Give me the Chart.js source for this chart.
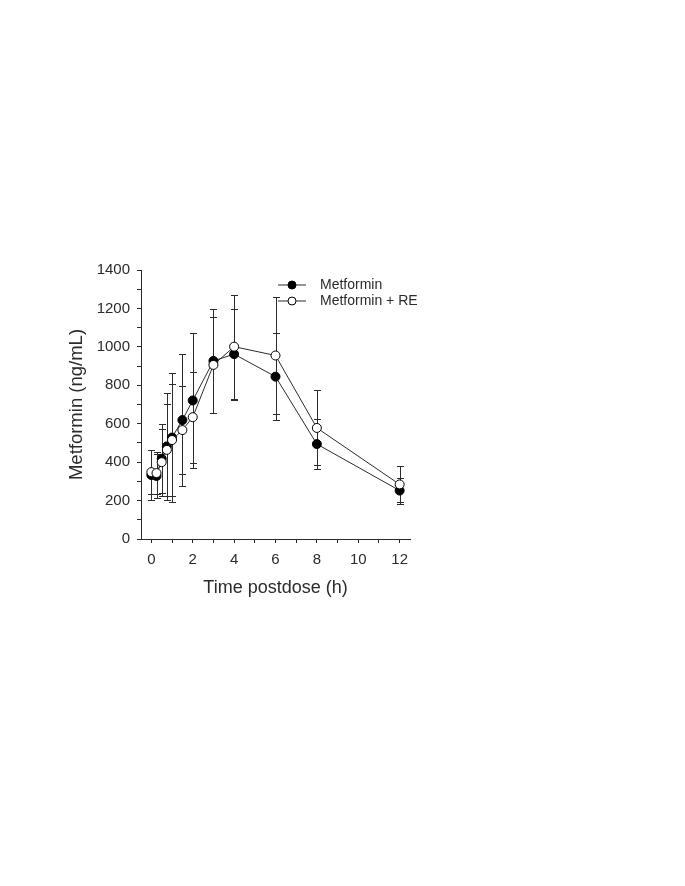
<!DOCTYPE html>
<html lang="en">
<head>
    <meta charset="UTF-8">
    <title>Metformin plasma concentration</title>
    <script src="https://cdn.jsdelivr.net/npm/chart.js@4.4.0/dist/chart.umd.min.js"></script>
    <style>
        html, body { margin: 0; padding: 0; background: #fff; }
        canvas { display: block; }
    </style>
</head>
<body>
    <canvas id="pkChart" width="685" height="886"></canvas>
    <script>
        // sampling times (h) and mean +/- SD
        const times = [0, 0.25, 0.5, 0.75, 1, 1.5, 2, 3, 4, 6, 8, 12];
        const metforminMean = [333, 328, 418, 482, 528, 619, 721, 927, 962, 845, 494, 252];
        const metforminSD = [128, 116, 181, 278, 336, 345, 350, 272, 237, 228, 130, 68];
        const metforminReMean = [348, 343, 400, 464, 515, 567, 634, 906, 1001, 955, 578, 284];
        const metforminReSD = [116, 110, 174, 240, 292, 228, 237, 250, 270, 305, 195, 94];

        const xTicks = [0, 1, 2, 3, 4, 5, 6, 7, 8, 9, 10, 11, 12];
        const xTickLabels = [0, 2, 4, 6, 8, 10, 12];
        const yTicks = [0, 100, 200, 300, 400, 500, 600, 700, 800, 900, 1000, 1100, 1200, 1300, 1400];
        const yTickLabels = [0, 200, 400, 600, 800, 1000, 1200, 1400];

        const ink = '#2b2b2b';
        Chart.defaults.font.family = '"Liberation Sans", Arial, sans-serif';
        Chart.defaults.color = ink;

        function toPoints(mean) {
            return times.map((t, i) => ({ x: t, y: mean[i] }));
        }

        // vertical SD bars with caps, drawn under the markers
        const errorBars = {
            id: 'errorBars',
            beforeDatasetsDraw(chart) {
                const ctx = chart.ctx;
                const xs = chart.scales.x;
                const ys = chart.scales.y;
                ctx.save();
                ctx.strokeStyle = ink;
                ctx.lineWidth = 1;
                chart.data.datasets.forEach(ds => {
                    ds.sd.forEach((sd, i) => {
                        const px = Math.round(xs.getPixelForValue(ds.data[i].x)) + 0.5;
                        const hi = Math.round(ys.getPixelForValue(ds.data[i].y + sd)) + 0.5;
                        const lo = Math.round(ys.getPixelForValue(ds.data[i].y - sd)) + 0.5;
                        ctx.beginPath();
                        ctx.moveTo(px, hi);
                        ctx.lineTo(px, lo);
                        ctx.moveTo(px - 3.5, hi);
                        ctx.lineTo(px + 3.5, hi);
                        ctx.moveTo(px - 3.5, lo);
                        ctx.lineTo(px + 3.5, lo);
                        ctx.stroke();
                    });
                });
                ctx.restore();
            }
        };

        // small line+marker legend in the top right of the plot
        const sampleLegend = {
            id: 'sampleLegend',
            afterDraw(chart) {
                const ctx = chart.ctx;
                const area = chart.chartArea;
                ctx.save();
                chart.data.datasets.forEach((ds, i) => {
                    const y = area.top + 15 + i * 16;
                    const x0 = area.left + 137;
                    ctx.strokeStyle = ds.borderColor;
                    ctx.lineWidth = 1;
                    ctx.beginPath();
                    ctx.moveTo(x0, y);
                    ctx.lineTo(x0 + 28, y);
                    ctx.stroke();
                    ctx.beginPath();
                    ctx.arc(x0 + 14, y, 4, 0, Math.PI * 2);
                    ctx.fillStyle = ds.pointBackgroundColor;
                    ctx.fill();
                    ctx.strokeStyle = ds.pointBorderColor;
                    ctx.stroke();
                    ctx.fillStyle = ink;
                    ctx.font = '14px "Liberation Sans", Arial, sans-serif';
                    ctx.textBaseline = 'middle';
                    ctx.fillText(ds.label, x0 + 42, y);
                });
                ctx.restore();
            }
        };

        new Chart(document.getElementById('pkChart'), {
            type: 'line',
            data: {
                datasets: [{
                    label: 'Metformin',
                    data: toPoints(metforminMean),
                    sd: metforminSD,
                    borderColor: ink,
                    borderWidth: 1,
                    pointRadius: 4.5,
                    pointBackgroundColor: '#000',
                    pointBorderColor: '#000',
                    pointBorderWidth: 1,
                    order: 2
                }, {
                    label: 'Metformin + RE',
                    data: toPoints(metforminReMean),
                    sd: metforminReSD,
                    borderColor: ink,
                    borderWidth: 1,
                    pointRadius: 4.5,
                    pointBackgroundColor: '#fff',
                    pointBorderColor: '#000',
                    pointBorderWidth: 1,
                    order: 1
                }]
            },
            options: {
                responsive: false,
                animation: false,
                devicePixelRatio: 1,
                layout: {
                    padding: { left: 0, top: 270, right: 275, bottom: 287 }
                },
                plugins: {
                    legend: { display: false },
                    tooltip: { enabled: false }
                },
                scales: {
                    x: {
                        type: 'linear',
                        min: -0.5,
                        max: 12.5,
                        afterBuildTicks: scale => {
                            scale.ticks = xTicks.map(v => ({ value: v }));
                        },
                        afterFit: scale => { scale.height = 60; },
                        ticks: {
                            autoSkip: false,
                            maxRotation: 0,
                            padding: 8,
                            font: { size: 15 },
                            callback: v => xTickLabels.includes(v) ? String(v) : ''
                        },
                        grid: {
                            drawOnChartArea: false,
                            drawTicks: true,
                            tickLength: 4,
                            tickColor: ink
                        },
                        border: { display: true, color: ink, width: 1 },
                        title: {
                            display: true,
                            text: 'Time postdose (h)',
                            font: { size: 18 },
                            padding: { top: 0, bottom: 0 }
                        }
                    },
                    y: {
                        type: 'linear',
                        min: 0,
                        max: 1400,
                        afterBuildTicks: scale => {
                            scale.ticks = yTicks.map(v => ({ value: v }));
                        },
                        afterFit: scale => { scale.width = 141; },
                        ticks: {
                            autoSkip: false,
                            padding: 7,
                            font: { size: 15 },
                            callback: v => yTickLabels.includes(v) ? String(v) : ''
                        },
                        grid: {
                            drawOnChartArea: false,
                            drawTicks: true,
                            tickLength: 4,
                            tickColor: ink
                        },
                        border: { display: true, color: ink, width: 1 },
                        title: {
                            display: true,
                            text: 'Metformin (ng/mL)',
                            font: { size: 18.5 },
                            padding: { top: 66, bottom: 0 }
                        }
                    }
                }
            },
            plugins: [errorBars, sampleLegend]
        });
    </script>
</body>
</html>
